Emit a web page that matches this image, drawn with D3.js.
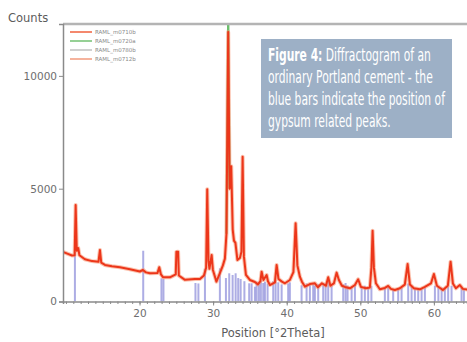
<!DOCTYPE html>
<html>
<head>
<meta charset="utf-8">
<script src="https://cdn.jsdelivr.net/npm/d3@7"></script>
<style>
  html, body { margin: 0; padding: 0; background: #fff; }
  svg { display: block; }
</style>
</head>
<body>
<svg id="chart" width="467" height="342"></svg>
<script>
// Diffractogram of an ordinary Portland cement (counts vs. 2-theta)
const legendLabels = ["RAML_m0710b", "RAML_m0720a", "RAML_m0780b", "RAML_m0712b"];
const legendColors = ["#f26a48", "#7cc47a", "#c4c4c4", "#f3a084"];

const xTicks = [20, 30, 40, 50, 60];
const yTicks = [0, 5000, 10000];

// measured scan (2-theta in degrees, counts)
const scanTheta = [
  9.59, 10.27, 10.82, 11.18, 11.32, 11.47, 11.67, 11.83, 12.58, 13.53,
  14.42, 14.62, 14.80, 15.30, 16.25, 17.34, 18.70, 20.05, 20.46, 20.87,
  21.41, 22.43, 22.68, 22.91, 23.18, 24.13, 24.92, 25.01, 25.24, 25.34,
  26.17, 27.53, 28.21, 28.75, 29.05, 29.20, 29.37, 29.50, 29.80, 29.97,
  30.45, 30.92, 31.33, 31.60, 31.81, 32.05, 32.24, 32.46, 32.66, 32.83,
  33.03, 33.30, 33.64, 33.85, 34.01, 34.18, 34.46, 35.00, 35.68, 36.09,
  36.43, 36.59, 36.84, 37.27, 37.45, 37.72, 38.40, 38.63, 38.88, 39.35,
  39.76, 40.43, 40.91, 41.21, 41.45, 41.79, 42.07, 42.47, 43.15, 43.83,
  44.24, 44.78, 45.33, 45.64, 45.94, 46.41, 46.78, 47.09, 47.50, 47.91,
  48.59, 49.27, 49.71, 50.08, 50.76, 51.30, 51.51, 51.67, 51.85, 52.12,
  52.66, 53.34, 53.79, 54.16, 54.70, 55.38, 56.05, 56.43, 56.74, 57.28,
  58.10, 58.78, 59.60, 60.00, 60.41, 61.22, 61.90, 62.27, 62.58, 62.99,
  63.53, 63.94, 64.89
];
const scanCounts = [
  2200, 2110, 2040, 2050, 4280, 2250, 2370, 2050, 1870, 1790,
  1760, 2280, 1720, 1620, 1560, 1515, 1430, 1330, 1400, 1290,
  1250, 1260, 1515, 1200, 1080, 1070, 1200, 2200, 2210, 1150,
  960, 1000, 1000, 1150, 1500, 4980, 1800, 1450, 2060, 1400,
  880, 1260, 1600, 1900, 3000, 11950, 5000, 6000, 3200, 2700,
  2600, 1840, 1930, 2200, 6420, 2000, 1175, 955, 865, 760,
  900, 1320, 950, 1175, 900, 730, 850, 1620, 1000, 880,
  807, 955, 1300, 3470, 1600, 1100, 880, 660, 775, 807,
  630, 807, 700, 1075, 700, 800, 1280, 950, 700, 645,
  585, 730, 985, 650, 585, 620, 1500, 3140, 1500, 807,
  540, 600, 690, 560, 510, 585, 750, 1660, 750, 585,
  540, 645, 800, 1220, 700, 510, 700, 1765, 800, 585,
  730, 560, 510
];

// second scan, visible only where it tops the main reflection
const secondTheta = [31.81, 32.05, 32.24];
const secondCounts = [3000, 12300, 5000];

// gypsum reference reflections (2-theta, intensity)
const gypsumTheta = [
  11.22, 20.50, 22.98, 23.25, 27.60, 28.00, 28.89, 30.92, 31.74, 32.19,
  32.65, 33.06, 33.41, 33.74, 34.25, 34.90, 35.23, 35.68, 35.91, 36.22,
  36.49, 36.81, 37.04, 37.40, 38.17, 38.49, 38.85, 39.31, 40.20, 40.43,
  42.02, 42.70, 43.15, 43.60, 43.83, 44.28, 44.96, 45.29, 45.64, 46.10,
  47.68, 48.00, 48.27, 48.82, 49.27, 50.18, 50.62, 51.07, 51.51, 53.34,
  53.79, 54.47, 55.15, 55.61, 56.51, 56.97, 57.42, 57.87, 58.33, 58.78,
  60.14, 60.61, 61.05, 61.49, 61.94, 62.40, 63.76, 64.08
];
const gypsumCounts = [
  2210, 2250, 1030, 1000, 820, 800, 1450, 1470, 1040, 1250,
  1175, 1250, 1040, 1000, 900, 807, 807, 655, 880, 850,
  900, 820, 880, 800, 900, 950, 850, 760, 800, 850,
  720, 800, 760, 820, 700, 780, 720, 800, 900, 700,
  760, 820, 700, 650, 720, 650, 700, 620, 700, 600,
  650, 560, 600, 620, 800, 650, 600, 560, 600, 620,
  700, 650, 620, 580, 650, 700, 620, 560
];

const svg = d3.select("#chart");
const plot = { left: 63, right: 467, top: 24, bottom: 301.5 };

const x = d3.scaleLinear().domain([9.6, 64.5]).range([plot.left, plot.right]);
const y = d3.scaleLinear().domain([0, 12300]).range([plot.bottom, plot.top]);

svg.append("defs").append("clipPath").attr("id", "plotClip")
  .append("rect")
  .attr("x", plot.left).attr("y", plot.top - 1)
  .attr("width", plot.right - plot.left).attr("height", plot.bottom - plot.top + 1);

const axisColor = "#8a8a8a";
const labelColor = "#6e6e6e";
const font = "'DejaVu Sans', Verdana, sans-serif";

// gypsum reflection bars
const gypsum = gypsumTheta.map((t, i) => ({ t, c: gypsumCounts[i] }));
svg.append("g").attr("clip-path", "url(#plotClip)")
  .selectAll("rect").data(gypsum).join("rect")
  .attr("x", d => x(d.t) - 1)
  .attr("width", 2)
  .attr("y", d => y(d.c))
  .attr("height", d => y(0) - y(d.c))
  .attr("fill", "#8a8ad8")
  .attr("opacity", 0.7);

const line = d3.line().x(d => x(d.t)).y(d => y(d.c));
const scan = scanTheta.map((t, i) => ({ t, c: scanCounts[i] }));
const second = secondTheta.map((t, i) => ({ t, c: secondCounts[i] }));

const traces = svg.append("g").attr("clip-path", "url(#plotClip)");
traces.append("path").datum(second)
  .attr("d", line).attr("fill", "none")
  .attr("stroke", "#6cbf6c").attr("stroke-width", 2.4);
traces.append("path").datum(scan)
  .attr("d", line).attr("fill", "none")
  .attr("stroke", "#f7906c").attr("stroke-width", 4)
  .attr("stroke-opacity", 0.55).attr("stroke-linejoin", "round");
traces.append("path").datum(scan)
  .attr("d", line).attr("fill", "none")
  .attr("stroke", "#ec361a").attr("stroke-width", 2)
  .attr("stroke-linejoin", "round");

// frame: top border and left axis
svg.append("line")
  .attr("x1", plot.left).attr("x2", plot.right)
  .attr("y1", plot.top).attr("y2", plot.top)
  .attr("stroke", "#b4b4b4").attr("stroke-width", 2.5);

const yAxis = svg.append("g")
  .attr("transform", `translate(${plot.left},0)`)
  .call(d3.axisLeft(y).tickValues(yTicks).tickSize(4).tickPadding(2).tickFormat(d3.format("d")));
yAxis.select(".domain").attr("stroke", axisColor).attr("stroke-width", 1.5);
yAxis.selectAll(".tick line").attr("stroke", axisColor);
yAxis.selectAll(".tick text")
  .attr("fill", labelColor).attr("font-family", font).attr("font-size", 10.5);

// bottom axis with one-degree minor ticks
const minorTicks = d3.range(10, 65, 1);
const xMinor = svg.append("g")
  .attr("transform", `translate(0,${plot.bottom})`)
  .call(d3.axisBottom(x).tickValues(minorTicks).tickSize(2.5).tickFormat(""));
xMinor.select(".domain").attr("stroke", axisColor).attr("stroke-width", 1.5);
xMinor.selectAll(".tick line").attr("stroke", axisColor);

const xAxis = svg.append("g")
  .attr("transform", `translate(0,${plot.bottom})`)
  .call(d3.axisBottom(x).tickValues(xTicks).tickSize(4).tickPadding(4).tickFormat(d3.format("d")));
xAxis.select(".domain").remove();
xAxis.selectAll(".tick line").attr("stroke", axisColor);
xAxis.selectAll(".tick text")
  .attr("fill", labelColor).attr("font-family", font).attr("font-size", 10.5);

// axis titles
svg.append("text")
  .attr("x", 8).attr("y", 22)
  .attr("fill", "#5c5c5c").attr("font-family", font).attr("font-size", 11.5)
  .text("Counts");
svg.append("text")
  .attr("x", 273).attr("y", 337)
  .attr("text-anchor", "middle")
  .attr("fill", "#5c5c5c").attr("font-family", font).attr("font-size", 11.5)
  .text("Position [°2Theta]");

// legend
const legend = svg.append("g");
legendLabels.forEach((name, i) => {
  const ly = 32 + i * 9;
  legend.append("line")
    .attr("x1", 70).attr("x2", 92).attr("y1", ly).attr("y2", ly)
    .attr("stroke", legendColors[i]).attr("stroke-width", 1.6);
  legend.append("text")
    .attr("x", 95).attr("y", ly + 2)
    .attr("fill", "#8a8a8a").attr("font-family", font).attr("font-size", 5.5)
    .text(name);
});

// caption panel
const caption = svg.append("g");
caption.append("rect")
  .attr("x", 261).attr("y", 39).attr("width", 191).attr("height", 99)
  .attr("fill", "#9db0c6");
const capFont = "'DejaVu Sans Condensed', 'Liberation Sans Narrow', sans-serif";
const captionLines = [
  [{ text: "Figure 4:", bold: true }, { text: " Diffractogram of an", bold: false }],
  [{ text: "ordinary Portland cement - the", bold: false }],
  [{ text: "blue bars indicate the position of", bold: false }],
  [{ text: "gypsum related peaks.", bold: false }]
];
const capTexts = captionLines.map((parts, i) => {
  const t = caption.append("text")
    .attr("transform", `translate(268,${61 + i * 22})`)
    .attr("fill", "#ffffff").attr("font-family", capFont).attr("font-size", 17.5);
  parts.forEach(p => t.append("tspan")
    .attr("font-weight", p.bold ? "bold" : null)
    .text(p.text));
  return t;
});
// tall narrow lettering: squeeze horizontally so the longest line spans the panel
const widest = d3.max(capTexts, t => t.node().getComputedTextLength());
const squeeze = Math.min(1, 177 / widest);
capTexts.forEach((t, i) =>
  t.attr("transform", `translate(268,${61 + i * 22}) scale(${squeeze},1)`));
</script>
</body>
</html>
